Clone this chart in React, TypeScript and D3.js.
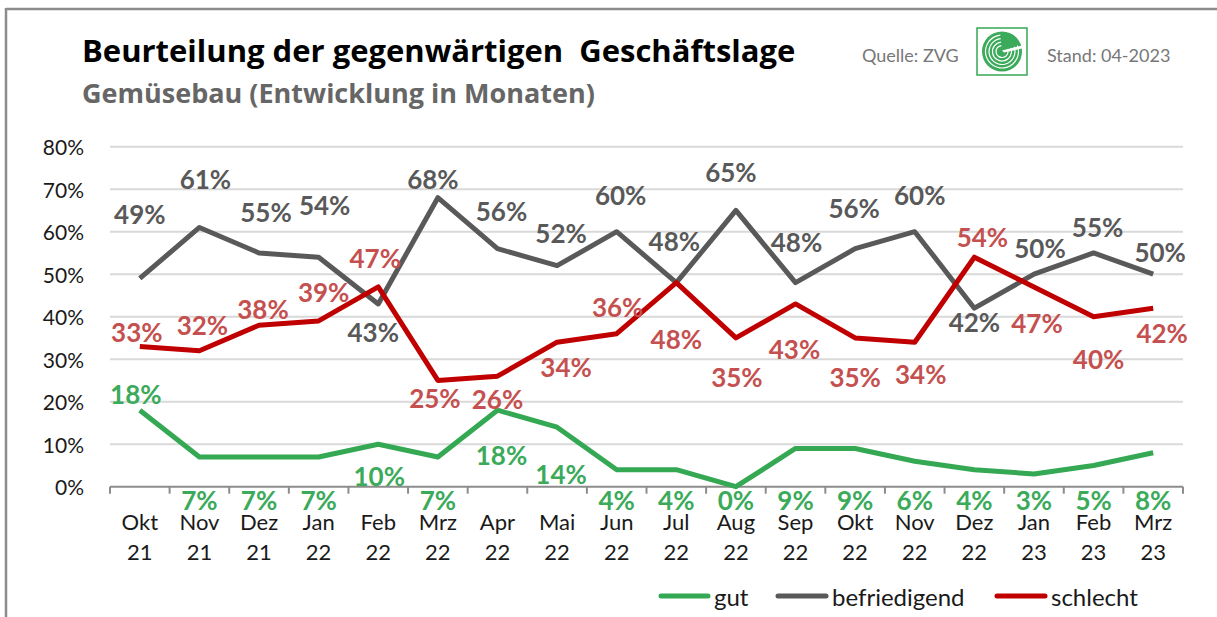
import React from "react";
import * as d3 from "d3";

const months = ["Okt","Nov","Dez","Jan","Feb","Mrz","Apr","Mai","Jun","Jul","Aug","Sep","Okt","Nov","Dez","Jan","Feb","Mrz"];
const years = ["21","21","21","22","22","22","22","22","22","22","22","22","22","22","22","23","23","23"];
const categories = months.map((m, i) => `${m} ${years[i]}`);

const gut = [18, 7, 7, 7, 10, 7, 18, 14, 4, 4, 0, 9, 9, 6, 4, 3, 5, 8];
const befriedigend = [49, 61, 55, 54, 43, 68, 56, 52, 60, 48, 65, 48, 56, 60, 42, 50, 55, 50];
const schlecht = [33, 32, 38, 39, 47, 25, 26, 34, 36, 48, 35, 43, 35, 34, 54, 47, 40, 42];

const yTicks = [0, 10, 20, 30, 40, 50, 60, 70, 80];

// label placement relative to the point (label centre offset); null = below the axis
const gutLabelPos: ([number, number] | null)[] = [[-4,-16], null, null, null, [1,32], null, [4,45], [4,47], null, null, null, null, null, null, null, null, null, null];
const befLabelPos: [number, number][] = [[0,-64],[6,-48],[7,-41],[6,-52],[-5,28],[-5,-19],[4,-38],[4,-33],[4,-37],[-2,-42],[-5,-38],[1,-41],[-1,-41],[5,-37],[0,14],[6,-26],[4,-26],[7,-22]];
const schLabelPos: [number, number][] = [[-3,-14],[3,-26],[4,-16],[5,-29],[-3,-29],[-3,18],[0,23],[9,25],[1,-27],[0,56],[1,39],[-1,45],[0,39],[6,32],[8,-20],[3,36],[5,42],[9,25]];

const FONT = "Lato, 'Open Sans', sans-serif";
const TITLE_FONT = "'Open Sans', Lato, sans-serif";
const C_GUT = "#34A853";
const C_GUT_T = "#3BAA5A";
const C_BEF = "#595959";
const C_SCH = "#C00000";
const C_SCH_T = "#C55050";

export default function App() {
  const W = 1217, H = 617;
  const x = d3.scaleBand<string>().domain(categories).range([110, 1183]);
  const y = d3.scaleLinear().domain([0, 80]).range([486.7, 146.7]);
  const cx = (i: number) => (x(categories[i]) as number) + x.bandwidth() / 2;
  const line = d3.line<number>().x((_, i) => cx(i)).y((v) => y(v));

  const series = [
    { name: "gut", values: gut, color: C_GUT, tcolor: C_GUT_T, pos: gutLabelPos },
    { name: "befriedigend", values: befriedigend, color: C_BEF, tcolor: C_BEF, pos: befLabelPos },
    { name: "schlecht", values: schlecht, color: C_SCH, tcolor: C_SCH_T, pos: schLabelPos },
  ];

  const edges = [...categories.map((c) => x(c) as number), x.range()[1]];

  const legend = [
    { name: "gut", color: C_GUT, x0: 661, x1: 708, tx: 714 },
    { name: "befriedigend", color: C_BEF, x0: 778, x1: 826, tx: 832 },
    { name: "schlecht", color: C_SCH, x0: 997, x1: 1045, tx: 1051 },
  ];

  // logo geometry
  const lx = 977, ly = 28, lw = 50, lh = 47;
  const lcx = lx + lw / 2, lcy = ly + lh / 2;
  const arc = d3.arc();

  return (
    <svg width={W} height={H} style={{ position: "absolute", left: 0, top: 0, background: "#fff" }} fontFamily={FONT}>
      <rect x={0} y={0} width={W} height={H} fill="#fff" />
      {/* frame */}
      <line x1={6} y1={9} x2={W} y2={9} stroke="#8c8c8c" strokeWidth={2.5} />
      <line x1={6} y1={8} x2={6} y2={H} stroke="#8c8c8c" strokeWidth={2.5} />

      {/* titles */}
      <text x={82} y={62} fontSize={31} fontWeight={700} fill="#000" fontFamily={TITLE_FONT} style={{ whiteSpace: "pre" }}>Beurteilung der gegenwärtigen  Geschäftslage</text>
      <text x={82} y={103} fontSize={27} fontWeight={700} fill="#666" fontFamily={TITLE_FONT}>Gemüsebau (Entwicklung in Monaten)</text>
      <text x={862} y={62} fontSize={18} fill="#777">Quelle:  ZVG</text>
      <text x={1047} y={62} fontSize={18} fill="#777">Stand: 04-2023</text>

      {/* logo */}
      <rect x={lx} y={ly} width={lw} height={lh} fill="#fff" stroke={C_GUT} strokeWidth={1.5} />
      <circle cx={lcx} cy={lcy} r={20} fill="#3BAA5A" />
      {[16.5, 13, 9.5, 6].map((r, i) => (
        <path key={i} transform={`translate(${lcx},${lcy})`}
          d={arc({ innerRadius: r - 0.6, outerRadius: r + 0.6, startAngle: 1.2, endAngle: 2 * Math.PI - 0.1 }) as string}
          fill="#fff" />
      ))}
      <path d={`M${lcx} ${lcy - 1} L${lcx + 20} ${lcy - 6} L${lcx + 20} ${lcy - 3} L${lcx + 2} ${lcy + 1} Z`} fill="#fff" />

      {/* gridlines */}
      {yTicks.slice(1).map((t) => (
        <line key={t} x1={110} x2={1183} y1={y(t)} y2={y(t)} stroke="#d9d9d9" strokeWidth={2} />
      ))}
      {/* y tick labels */}
      {yTicks.map((t) => (
        <text key={t} x={84} y={y(t)} textAnchor="end" dominantBaseline="central" fontSize={21} fill="#1a1a1a">{`${t}%`}</text>
      ))}

      {/* x axis */}
      <line x1={110} x2={1183} y1={y(0)} y2={y(0)} stroke="#8c8c8c" strokeWidth={2} />
      {edges.map((e, i) => (
        <line key={i} x1={e} x2={e} y1={y(0)} y2={y(0) + 7} stroke="#8c8c8c" strokeWidth={2} />
      ))}
      {categories.map((c, i) => (
        <g key={c}>
          <text x={cx(i)} y={530} textAnchor="middle" fontSize={22} fill="#1a1a1a">{months[i]}</text>
          <text x={cx(i)} y={560} textAnchor="middle" fontSize={22} fill="#1a1a1a">{years[i]}</text>
        </g>
      ))}

      {/* lines */}
      {series.map((s) => (
        <path key={s.name} d={line(s.values) as string} fill="none" stroke={s.color} strokeWidth={5} strokeLinejoin="round" />
      ))}

      {/* data labels */}
      {series.map((s) =>
        s.values.map((v, i) => {
          const p = s.pos[i];
          const lxp = p ? cx(i) + p[0] : cx(i);
          const lyp = p ? y(v) + p[1] : y(0) + 13;
          return (
            <text key={s.name + i} x={lxp} y={lyp} textAnchor="middle" dominantBaseline="central"
              fontSize={26} fontWeight={700} fill={s.tcolor}>{`${v}%`}</text>
          );
        })
      )}

      {/* legend */}
      {legend.map((l) => (
        <g key={l.name}>
          <line x1={l.x0} x2={l.x1} y1={596} y2={596} stroke={l.color} strokeWidth={5} strokeLinecap="round" />
          <text x={l.tx} y={596} dominantBaseline="central" fontSize={24} fill="#1a1a1a">{l.name}</text>
        </g>
      ))}
    </svg>
  );
}
